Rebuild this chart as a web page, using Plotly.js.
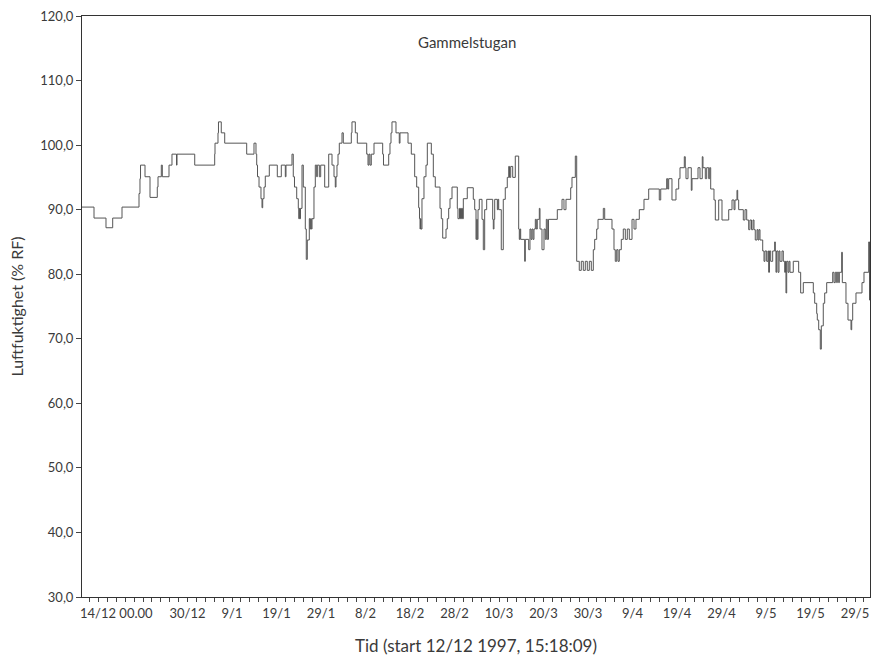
<!DOCTYPE html>
<html>
<head>
<meta charset="utf-8">
<script src="https://cdn.plot.ly/plotly-3.0.1.min.js"></script>
<style>html,body{margin:0;padding:0;background:#fff;}#chart{width:873px;height:657px;}</style>
</head>
<body>
<div id="chart"></div>
<script>
// Series start (left edge of the axis) and elapsed days for each step change
const seriesStart = '1997-12-06T07:00:00Z';
const spanDays = 177.08;

const elapsedDays = [
0,2.70,5.39,6.90,8.99,12.81,13.03,13.15,14.16,15.28,16.92,17.08,17.82,18.05,19.55,20.22,21.24,21.35,25.33,29.82,29.89,30.56,30.67,31.30,32.07,37.01,38.65,39.10,39.26,39.44,39.78,40.22,40.45,40.61,40.90,41.19,42.09,
43.89,44.79,45.69,45.84,47.19,47.48,47.75,48.25,48.61,48.72,48.83,48.94,49.10,49.44,49.73,50.18,50.40,50.63,51.08,51.24,51.39,51.53,51.69,52.13,52.43,52.74,52.88,53.33,53.64,54.54,55.44,56.18,56.63,56.92,57.08,57.30,57.53,57.82,58.43,58.72,60.52,60.67,61.42,61.87,63.98,64.27,64.49,64.72,65.01,65.62,67.57,67.75,68.92,69.21,69.44,69.66,70.56,71.30,71.46,73.26,74.00,74.76,75.21,75.66,75.84,75.96,76.07,76.18,76.40,76.85,77.30,77.60,78.50,78.95,79.39,80.45,80.74,81.06,81.80,82.09,82.40,82.70,83.15,84.34,84.49,84.83,85.06,85.28,85.51,85.69,
86.58,87.93,88.25,88.54,88.70,88.83,88.99,89.28,89.89,90.18,90.49,90.94,92.29,92.43,92.58,92.74,93.33,93.48,93.64,94.22,94.67,95.12,95.57,95.89,96.07,96.34,96.79,97.37,98.13,98.27,98.43,98.58,99.48,99.62,100.38,100.67,100.90,101.12,101.35,101.57,101.87,102.09,102.31,102.77,102.92,103.37,103.82,104.11,104.34,104.56,104.83,106.81,107.87,108.31,108.76,109.82,110.11,110.86,111.17,111.75,112.20,112.65,113.10,113.55,114.00,114.45,114.90,115.21,115.66,115.96,117.15,117.46,119.10,119.55,119.84,120.16,120.45,120.74,121.19,121.64,122.09,122.54,122.99,123.60,124.05,124.49,125.24,126.29,127.35,
129.73,130.05,131.39,131.62,131.84,132.58,133.48,134.09,134.38,135.35,135.57,135.73,136.18,136.92,137.08,138.43,138.88,139.39,139.55,140.07,140.38,140.83,141.06,141.28,142.02,142.32,143.08,143.82,145.33,146.07,146.52,146.74,147.19,147.35,147.57,148.61,148.99,149.37,149.82,150.11,150.45,150.79,151.01,151.30,151.69,151.91,152.13,152.36,152.97,153.26,153.48,153.86,154.16,154.31,154.49,154.76,155.21,155.66,155.80,155.95,156.11,156.41,156.63,156.85,157.30,157.60,157.91,158.09,158.20,158.36,158.65,158.88,159.10,159.84,161.05,161.50,162.09,164.34,164.65,165.10,165.24,165.55,165.91,166.14,166.58,166.90,167.35,168.70,168.99,169.28,169.60,169.73,170.05,170.18,170.72,170.86,171.68,172.13,172.81,172.97,173.19,173.93,175.28,175.73,176.79,176.97,177.08
];

const humidity = [
90.4,88.7,87.2,88.7,90.4,92.5,94.8,96.9,95.1,91.9,93.5,95.1,96.9,95.1,96.9,98.6,96.9,98.6,96.9,98.6,100.3,101.9,103.6,101.9,100.3,98.6,100.3,98.6,96.9,95.1,93.5,91.7,90.3,91.7,93.5,95.2,96.9,
95.1,96.9,95.1,96.9,98.6,95.1,93.5,91.7,90.2,88.6,90.2,88.6,90.2,96.9,93.5,87.0,82.3,85.3,88.6,87.0,88.6,87.0,88.6,93.5,96.9,95.1,96.9,95.1,96.9,93.5,98.6,96.9,95.1,93.5,95.1,96.9,98.6,100.3,101.9,100.3,101.9,103.6,101.9,100.3,98.6,96.9,98.6,96.9,98.6,100.3,98.6,96.9,98.6,100.3,101.9,103.6,101.9,100.3,101.9,100.3,98.6,95.1,93.5,90.3,88.6,87.0,88.6,87.0,91.7,95.1,96.9,100.3,98.6,95.1,93.5,90.2,88.6,85.6,87.0,88.6,90.2,91.7,93.5,90.2,88.6,90.2,88.6,90.2,88.6,91.7,
93.4,91.6,90.0,85.4,88.5,85.4,90.0,91.6,88.5,83.8,90.0,91.6,88.5,87.0,88.5,91.6,90.0,91.6,90.0,83.8,91.6,93.4,95.0,96.7,95.0,96.7,95.0,98.3,87.0,85.4,87.0,85.4,82.0,85.4,83.8,87.0,85.4,87.0,85.4,87.0,88.5,87.0,88.5,90.2,87.0,83.8,87.0,85.4,88.5,85.4,88.5,90.0,91.6,90.0,91.6,93.4,95.0,98.3,82.0,80.6,82.0,80.6,82.0,80.6,82.0,80.6,83.8,85.4,87.0,88.5,90.2,88.5,87.0,83.8,82.0,83.8,82.0,83.8,85.4,87.0,85.4,87.0,85.4,88.5,87.0,88.5,90.0,91.6,93.2,
91.5,93.2,94.8,93.2,94.8,91.5,93.2,94.8,96.5,98.2,96.5,94.8,96.5,93.0,94.8,96.5,94.8,98.2,96.5,94.8,96.5,94.8,96.5,93.2,91.5,88.4,91.5,88.4,90.0,91.5,90.0,91.5,93.0,91.5,90.0,88.4,90.0,88.4,86.9,88.4,86.9,88.4,86.9,85.3,86.9,85.3,86.9,85.3,83.6,82.0,83.6,82.0,83.6,80.3,83.6,82.0,83.6,85.0,83.6,80.3,83.6,80.3,83.6,82.0,83.6,82.0,80.3,82.0,77.1,82.0,80.3,82.0,80.3,82.0,80.3,77.1,78.7,77.1,75.5,73.9,72.9,71.4,68.4,72.0,75.5,77.1,78.7,80.3,78.7,80.3,78.7,80.3,78.7,80.3,83.4,78.7,75.5,72.9,71.4,72.9,75.5,77.1,78.7,80.3,85.0,76.0,76.0
];

const tickDates = ['1997-12-14','1997-12-30','1998-01-09','1998-01-19','1998-01-29','1998-02-08','1998-02-18','1998-02-28','1998-03-10','1998-03-20','1998-03-30','1998-04-09','1998-04-19','1998-04-29','1998-05-09','1998-05-19','1998-05-29'];
const tickLabels = ['14/12 00.00','30/12','9/1','19/1','29/1','8/2','18/2','28/2','10/3','20/3','30/3','9/4','19/4','29/4','9/5','19/5','29/5'];

const chartTitle = 'Gammelstugan';
const xTitle = 'Tid (start 12/12 1997, 15:18:09)';
const yTitle = 'Luftfuktighet (% RF)';

const DAY = 86400000;
const t0 = Date.parse(seriesStart);
function toDate(d){ return new Date(t0 + d*DAY).toISOString().slice(0,19).replace('T',' '); }
const xs = elapsedDays.map(toDate);

const font = {family: 'Lato, "Open Sans", sans-serif', color: '#3a3a3a'};

Plotly.newPlot('chart', [{
  type: 'scatter', mode: 'lines', x: xs, y: humidity,
  line: {shape: 'hv', color: '#555555', width: 1},
  hoverinfo: 'skip'
}], {
  width: 873, height: 657,
  margin: {l: 82, r: 3, t: 16, b: 60},
  paper_bgcolor: '#fff', plot_bgcolor: '#fff',
  separators: ', ',
  showlegend: false,
  font: Object.assign({size: 13}, font),
  xaxis: {
    type: 'date',
    range: [toDate(0), toDate(spanDays)],
    tickmode: 'array', tickvals: tickDates, ticktext: tickLabels,
    ticks: 'outside', ticklen: 4, tickcolor: '#444', tickwidth: 1,
    minor: {dtick: 2*DAY, tick0: '1998-01-09', ticks: 'outside', ticklen: 4, tickcolor: '#444', showgrid: false},
    showgrid: false, zeroline: false,
    showline: true, linecolor: '#333', linewidth: 1, mirror: true,
    tickfont: Object.assign({size: 13}, font),
    title: {text: xTitle, font: Object.assign({size: 17}, font), standoff: 20},
    automargin: false
  },
  yaxis: {
    range: [30, 120], dtick: 10, tick0: 30, tickformat: '.1f',
    ticks: 'outside', ticklen: 5, tickcolor: '#444',
    showgrid: false, zeroline: false,
    showline: true, linecolor: '#333', linewidth: 1, mirror: true,
    tickfont: Object.assign({size: 13}, font),
    title: {text: yTitle, font: Object.assign({size: 16}, font), standoff: 12},
    automargin: false
  },
  annotations: [{
    text: chartTitle, xref: 'paper', yref: 'paper', x: 0.4886, y: 0.955,
    xanchor: 'center', yanchor: 'middle', showarrow: false,
    font: Object.assign({size: 15}, font)
  }]
}, {displayModeBar: false, staticPlot: true});
</script>
</body>
</html>
